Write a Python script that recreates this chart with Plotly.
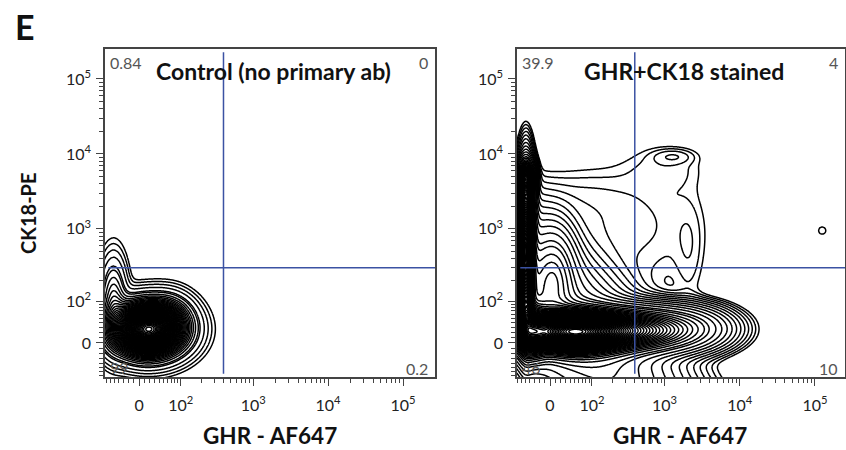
import numpy as np
import plotly.graph_objects as go

# ---------------- data ----------------
tick_values = [0, 100, 1000, 10000, 100000]
tick_labels = ["0", "10<sup>2</sup>", "10<sup>3</sup>", "10<sup>4</sup>", "10<sup>5</sup>"]
minor_values = ([-70, -60, -50, -40, -30, -20, -10] + [10, 20, 30, 40, 50, 60, 70, 80, 90]
                + [200, 300, 400, 500, 600, 700, 800, 900]
                + [2000, 3000, 4000, 5000, 6000, 7000, 8000, 9000]
                + [20000, 30000, 40000, 50000, 60000, 70000, 80000, 90000])
gate_ghr = 400      # vertical quadrant gate (GHR)
gate_ck18 = 300     # horizontal quadrant gate (CK18)

panel_titles = ["Control (no primary ab)", "GHR+CK18 stained"]
x_title = "GHR - AF647"
y_title = "CK18-PE"
ctrl_quadrants = ["0.84", "0", "99", "0.2"]      # UL, UR, LL, LR
stain_quadrants = ["39.9", "4", "46", "10"]

# population components (display units: x, y, sx, sy, rho, weight)
ctrl_cx = [0.12, -0.34, 0.40]
ctrl_cy = [0.18, 0.55, 0.35]
ctrl_sx = [0.27, 0.10, 0.18]
ctrl_sy = [0.20, 0.33, 0.18]
ctrl_rho = [0.0, 0.0, 0.0]
ctrl_w = [1.0, 0.07, 0.05]

stain_cx = [0.30, 1.10, 1.80, -0.32, -0.32, -0.32, -0.10, 0.05, 1.10, 1.85, 1.55, 1.64, 3.62, -0.25, 0.30]
stain_cy = [0.15, 0.17, 0.20, 0.85, 1.50, 2.20, 0.50, 0.90, 1.55, 1.20, 2.35, 2.49, 1.50, 0.15, 1.85]
stain_sx = [0.40, 0.45, 0.32, 0.055, 0.055, 0.055, 0.962, 0.16, 0.60, 0.13, 0.35, 0.18, 0.06, 0.12, 0.45]
stain_sy = [0.15, 0.15, 0.15, 0.45, 0.40, 0.12, 0.962, 0.35, 0.50, 0.50, 0.20, 0.065, 0.06, 0.20, 0.30]
stain_rho = [0.0, 0.0, 0.0, 0.0, 0.0, 0.0, -0.827, 0.0, 0.0, 0.0, 0.0, 0.0, 0.0, 0.0, 0.0]
stain_w = [1.0, 0.40, 0.035, 0.2, 0.2, 0.05, 0.8, 0.08, 0.009, 0.0011, 0.0012, 0.0003, 0.00006, 0.15, 0.003]

# ---------------- helpers ----------------
A = 60.0
def f(v):
    return np.arcsinh(np.asarray(v, dtype=float) / A) / np.log(10)

def density(cx, cy, sx, sy, rho, w, gx, gy):
    X, Y = np.meshgrid(gx, gy)
    Z = np.zeros_like(X)
    for x0, y0, a, b, r, ww in zip(cx, cy, sx, sy, rho, w):
        dx = (X - x0) / a
        dy = (Y - y0) / b
        q = (dx * dx - 2 * r * dx * dy + dy * dy) / (1 - r * r)
        Z += ww / (2 * np.pi * a * b * np.sqrt(1 - r * r)) * np.exp(-0.5 * q)
    return Z / Z.max()

XR = [[-0.454, 3.95], [-0.439, 3.923]]
YR = [-0.454, 3.923]
gx = np.linspace(-0.47, 3.97, 450)
gy = np.linspace(-0.47, 3.95, 450)

# contour level settings per panel: (lin start, lin step, log start, log end, log step)
levels = [(0.05, 0.02, -2.4, -1.4, 0.25), (0.06, 0.02, -3.2, -1.3, 0.17)]

fig = go.Figure()
black = [[0, "black"], [1, "black"]]
for i, (cx, cy, sx, sy, rho, w) in enumerate([
        (ctrl_cx, ctrl_cy, ctrl_sx, ctrl_sy, ctrl_rho, ctrl_w),
        (stain_cx, stain_cy, stain_sx, stain_sy, stain_rho, stain_w)]):
    Z = density(cx, cy, sx, sy, rho, w, gx, gy)
    xa = "x" if i == 0 else "x2"
    ya = "y" if i == 0 else "y2"
    ls, lstep, gs, ge, gstep = levels[i]
    fig.add_trace(go.Contour(x=gx, y=gy, z=Z, xaxis=xa, yaxis=ya,
                             contours=dict(coloring="lines", start=ls, end=0.995, size=lstep),
                             colorscale=black, showscale=False, line=dict(width=1.5, smoothing=1),
                             hoverinfo="skip"))
    Zl = np.log10(np.maximum(Z, 1e-12))
    fig.add_trace(go.Contour(x=gx, y=gy, z=Zl, xaxis=xa, yaxis=ya,
                             contours=dict(coloring="lines", start=gs, end=ge, size=gstep),
                             colorscale=black, showscale=False, line=dict(width=1.5, smoothing=1),
                             hoverinfo="skip"))

axcol = "#444444"
tickfont = dict(family="Lato", size=16, color="#222222")
def xaxis(dom, rng):
    return dict(domain=dom, range=rng, tickmode="array", tickvals=list(f(tick_values)),
                ticktext=tick_labels, ticks="outside", ticklen=7, tickwidth=1.2, tickcolor=axcol,
                showline=True, linecolor=axcol, linewidth=1.5, mirror=True, showgrid=False,
                zeroline=False, tickfont=tickfont, ticklabelstandoff=6,
                minor=dict(tickmode="array", tickvals=list(f(minor_values)), ticks="outside",
                           ticklen=4, tickwidth=1, tickcolor=axcol, showgrid=False))

def yaxis(rng, anchor):
    d = xaxis([0.1622, 0.8911], rng)
    d["anchor"] = anchor
    d["ticklabelstandoff"] = 2
    return d

L = xaxis([105 / 846, 435 / 846], XR[0]); L["anchor"] = "y"
R = xaxis([517 / 846, 845 / 846], XR[1]); R["anchor"] = "y2"
fig.update_layout(
    width=846, height=450, margin=dict(l=0, r=0, t=0, b=0),
    paper_bgcolor="white", plot_bgcolor="white", showlegend=False,
    xaxis=L, xaxis2=R, yaxis=yaxis(YR, "x"), yaxis2=yaxis(YR, "x2"),
)

gate_col = "#3b52a3"
for xa, ya in [("x", "y"), ("x2", "y2")]:
    fig.add_shape(type="line", xref=xa, yref=ya + " domain", x0=float(f(gate_ghr)), x1=float(f(gate_ghr)),
                  y0=0.01, y1=0.99, line=dict(color=gate_col, width=1.5))
    fig.add_shape(type="line", xref=xa + " domain", yref=ya, x0=0.01, x1=1, y0=float(f(gate_ck18)),
                  y1=float(f(gate_ck18)), line=dict(color=gate_col, width=1.5))

numfont = dict(family="Lato", size=16, color="#555555")
for (xa, ya), q in zip([("x", "y"), ("x2", "y2")], [ctrl_quadrants, stain_quadrants]):
    pos = [(0.01, 0.96, "left"), (0.985, 0.96, "right"), (0.01, 0.03, "left"), (0.985, 0.025, "right")]
    for (px, py, al), t in zip(pos, q):
        fig.add_annotation(text=t, xref=xa + " domain", yref=ya + " domain", x=px, y=py,
                           xanchor=al, yanchor="middle", showarrow=False, font=numfont)

boldfont = dict(family="Lato", size=23, color="#111111")
for t, cx in zip(panel_titles, [273, 684]):
    fig.add_annotation(text="<b>%s</b>" % t, xref="paper", yref="paper", x=cx / 846, y=1 - 71 / 450,
                       xanchor="center", yanchor="middle", showarrow=False, font=boldfont)
for cx in [270, 680]:
    fig.add_annotation(text="<b>%s</b>" % x_title, xref="paper", yref="paper", x=cx / 846, y=1 - 435 / 450,
                       xanchor="center", yanchor="middle", showarrow=False, font=dict(family="Lato", size=22.5, color="#111111"))
fig.add_annotation(text="<b>%s</b>" % y_title, xref="paper", yref="paper", x=28 / 846, y=1 - 214 / 450,
                   xanchor="center", yanchor="middle", textangle=-90, showarrow=False,
                   font=dict(family="Lato", size=20, color="#111111"))
fig.add_annotation(text="<b>E</b>", xref="paper", yref="paper", x=25 / 846, y=1 - 26 / 450,
                   xanchor="center", yanchor="middle", showarrow=False,
                   font=dict(family="Lato", size=34, color="#111111"))

fig.write_html("out.html")
